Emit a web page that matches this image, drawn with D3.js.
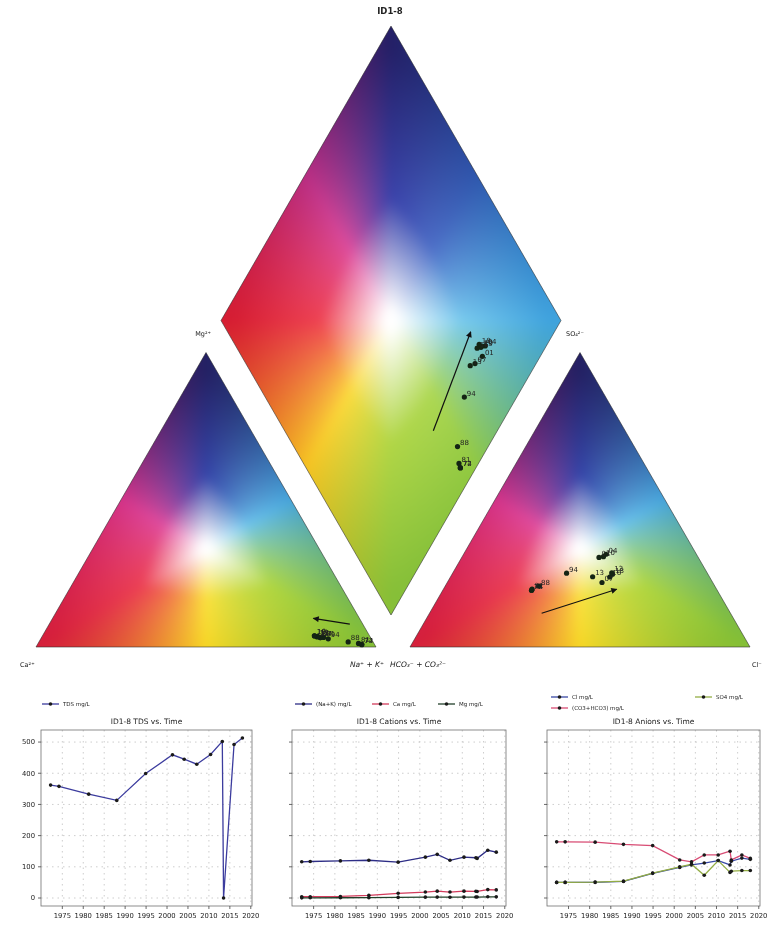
<!DOCTYPE html>
<html>
<head>
<meta charset="utf-8">
<title>ID1-8</title>
<script src="https://cdn.jsdelivr.net/npm/d3@7"></script>
<style>
  html, body { margin: 0; padding: 0; background: #fff; }
  #wrap { position: relative; width: 782px; height: 925px; overflow: hidden; }
  #field, #chart { position: absolute; left: 0; top: 0; }
  text { font-family: "DejaVu Sans", sans-serif; fill: #222; }
</style>
</head>
<body>
<div id="wrap">
  <canvas id="field" width="782" height="680"></canvas>
  <svg id="chart" width="782" height="925"></svg>
</div>
<script>
// ---- Sample record for well ID1-8 (decimal year, mg/L) ----
const sampleDates  = [1972.2, 1974.2, 1981.3, 1988.0, 1994.9, 2001.3, 2004.1, 2007.1, 2010.4, 2013.2, 2013.5, 2016.0, 2018.0];
const sampleLabels = ["72", "74", "81", "88", "94", "01", "04", "07", "10", "13", "13", "16", "18"];
const tdsMgL  = [362, 358, 333, 313, 399, 459, 445, 429, 460, 502, 0, 492, 513];
const naKMgL  = [116, 117, 119, 121, 115, 131, 140, 121, 131, 129, 127, 153, 147];
const caMgL   = [4, 4, 5, 8.5, 15, 19, 22, 19, 22, 21.5, 21, 27, 26];
const mgMgL   = [0.5, 0.6, 0.8, 1.2, 2, 2.7, 2.9, 2.5, 2.9, 3, 3, 3.8, 3.7];
const clMgL   = [50, 50, 50, 53, 79, 98, 106, 112, 120, 106, 118, 128, 124];
const so4MgL  = [50, 50, 51, 54, 80, 100, 108, 73, 120, 82, 86, 88, 88];
const hco3MgL = [180, 180, 179, 172, 168, 122, 116, 138, 138, 150, 122, 138, 127];

const yearTicks  = [1975, 1980, 1985, 1990, 1995, 2000, 2005, 2010, 2015, 2020];
const valueTicks = [0, 100, 200, 300, 400, 500];

// Trend arrows, as ternary fractions
const cationTrend  = [[0.884, 0.078], [0.767, 0.0975]];   // [Na+K, Mg]
const anionTrend   = [[0.33, 0.1145], [0.51, 0.196]];     // [Cl, SO4]
const diamondTrend = [[0.8115, 0.5625], [0.7535, 0.2845]]; // [Na+K, CO3+HCO3]

// Equivalent weights (mg per meq)
const eqWeight = { ca: 20.04, mg: 12.15, naK: 22.99, cl: 35.45, so4: 48.03, hco3: 61.02 };

// ---- Piper geometry ----
const L = 340, H = L * Math.sqrt(3) / 2;
const baseY = 647, catLeft = 36, anLeft = 410;
const diaBottom = { x: 391, y: 615 };
const frac = d3.scaleLinear([0, 1], [0, L]);
const lift = d3.scaleLinear([0, 1], [baseY, baseY - H]);
const catPoint = (na, mg) => [catLeft + frac(na + mg / 2), lift(mg)];
const anPoint  = (cl, so4) => [anLeft + frac(cl + so4 / 2), lift(so4)];
const diaPoint = (na, hco3) => {
  const a = 1 - na, b = 1 - hco3;
  return [diaBottom.x + frac((b - a) / 2), diaBottom.y - (baseY - lift(a + b))];
};

const catTri = [catPoint(0, 0), catPoint(1, 0), catPoint(0, 1)];
const anTri  = [anPoint(0, 0), anPoint(1, 0), anPoint(0, 1)];
const diamond = [diaPoint(1, 1), diaPoint(0, 1), diaPoint(0, 0), diaPoint(1, 0)];

// Percent composition per sample (meq basis)
const samples = sampleDates.map((d, i) => {
  const c = caMgL[i] / eqWeight.ca, m = mgMgL[i] / eqWeight.mg, n = naKMgL[i] / eqWeight.naK;
  const ct = c + m + n;
  const cl = clMgL[i] / eqWeight.cl, s = so4MgL[i] / eqWeight.so4, h = hco3MgL[i] / eqWeight.hco3;
  const at = cl + s + h;
  return { label: sampleLabels[i], na: n / ct, mg: m / ct, cl: cl / at, so4: s / at, hco3: h / at };
});

// ---- Colour field behind the Piper shapes ----
function makeLUT(stops, outer, mid, rWhite, rMid) {
  const oS = d3.scaleLinear(stops, outer).interpolate(d3.interpolateRgb);
  const mS = d3.scaleLinear(stops, mid).interpolate(d3.interpolateRgb);
  const NA = 360, NR = 200;
  const span = stops[stops.length - 1] - stops[0];
  const lut = new Uint8ClampedArray((NA + 1) * (NR + 1) * 3);
  for (let i = 0; i <= NA; i++) {
    const ang = stops[0] + i * span / NA;
    const o = d3.rgb(oS(ang)), m = d3.rgb(mS(ang));
    for (let j = 0; j <= NR; j++) {
      const r = j / NR;
      let R, G, B;
      if (r <= rWhite) { R = G = B = 255; }
      else if (r <= rMid) {
        const t = (r - rWhite) / (rMid - rWhite);
        R = 255 + (m.r - 255) * t; G = 255 + (m.g - 255) * t; B = 255 + (m.b - 255) * t;
      } else {
        const t = (r - rMid) / (1 - rMid);
        R = m.r + (o.r - m.r) * t; G = m.g + (o.g - m.g) * t; B = m.b + (o.b - m.b) * t;
      }
      const k = (i * (NR + 1) + j) * 3;
      lut[k] = R; lut[k + 1] = G; lut[k + 2] = B;
    }
  }
  return { lut, a0: stops[0], span, NA, NR };
}
function lutIndex(T, ang, r) {
  let a = ang;
  while (a < T.a0) a += 360;
  while (a >= T.a0 + 360) a -= 360;
  const i = Math.round((a - T.a0) / T.span * T.NA);
  const j = Math.round(Math.min(1, Math.max(0, r)) * T.NR);
  return (i * (T.NR + 1) + j) * 3;
}

// triangle: angle stops counter-clockwise from the lower-right corner
const triLUT = makeLUT(
  [-30, 30, 90, 150, 210, 270, 330],
  ["#84bf35", "#3a9ad6", "#232063", "#cf2a80", "#d51f3b", "#f5d31c", "#84bf35"],
  ["#b0d640", "#6ec4ec", "#3444a8", "#e04ea0", "#ec4054", "#fbe240", "#b0d640"],
  0.04, 0.42);
// diamond: angle stops counter-clockwise from the right corner
const diaLUT = makeLUT(
  [0, 45, 90, 135, 180, 225, 270, 315, 360],
  ["#3fa3de", "#2a52a8", "#231f66", "#b2297f", "#d61d32", "#f4bf1e", "#86bf38", "#8cc63e", "#3fa3de"],
  ["#78caee", "#4e70c8", "#3a42aa", "#de4e9e", "#ee4252", "#fcdc40", "#b0d646", "#aed854", "#78caee"],
  0.04, 0.45);

const canvas = document.getElementById("field");
const ctx = canvas.getContext("2d");
const PAD = 24;

// Build one shape's field on its own padded layer, then lay it down softened and clipped.
function layShape(poly, colourAt) {
  const xs = poly.map(p => p[0]), ys = poly.map(p => p[1]);
  const x0 = Math.floor(d3.min(xs)) - PAD, y0 = Math.floor(d3.min(ys)) - PAD;
  const w = Math.ceil(d3.max(xs)) + PAD - x0, h = Math.ceil(d3.max(ys)) + PAD - y0;
  const layer = document.createElement("canvas");
  layer.width = w; layer.height = h;
  const lctx = layer.getContext("2d");
  const im = lctx.createImageData(w, h);
  for (let j = 0; j < h; j++) {
    for (let i = 0; i < w; i++) {
      const [T, k] = colourAt(x0 + i + 0.5, y0 + j + 0.5);
      const p = (j * w + i) * 4;
      im.data[p] = T.lut[k]; im.data[p + 1] = T.lut[k + 1]; im.data[p + 2] = T.lut[k + 2]; im.data[p + 3] = 255;
    }
  }
  lctx.putImageData(im, 0, 0);
  ctx.save();
  ctx.beginPath();
  poly.forEach((p, i) => i ? ctx.lineTo(p[0], p[1]) : ctx.moveTo(p[0], p[1]));
  ctx.closePath();
  ctx.clip();
  ctx.filter = "blur(5px)";
  ctx.drawImage(layer, x0, y0);
  ctx.restore();
}

function triangleColour(tri) {
  const [bl, br, ap] = tri;
  const cx = (bl[0] + br[0] + ap[0]) / 3, cy = (bl[1] + br[1] + ap[1]) / 3;
  const inR = H / 3;
  return (x, y) => {
    const l3 = (bl[1] - y) / H;
    const xl = bl[0] + l3 * L / 2;
    const l2 = (x - xl) / L, l1 = 1 - l2 - l3;
    const rTri = 1 - 3 * Math.min(l1, l2, l3);
    const rCirc = Math.hypot(x - cx, y - cy) / (1.6 * inR);
    const r = 0.6 * rTri + 0.4 * rCirc;
    const ang = Math.atan2(cy - y, x - cx) * 180 / Math.PI;
    return [triLUT, lutIndex(triLUT, ang, r)];
  };
}
function diamondColour(dm) {
  const [bot, left, top, right] = dm;
  const cx = bot[0], cy = (top[1] + bot[1]) / 2;
  const hw = (right[0] - left[0]) / 2, hh = (bot[1] - top[1]) / 2;
  return (x, y) => {
    const u = (x - cx) / hw, v = (cy - y) / hh;
    const rD = Math.abs(u) + Math.abs(v);
    const rC = Math.hypot(u, v) / 0.85;
    const r = 0.6 * rD + 0.4 * rC;
    const ang = Math.atan2(v, u) * 180 / Math.PI;
    return [diaLUT, lutIndex(diaLUT, ang, r)];
  };
}
layShape(catTri, triangleColour(catTri));
layShape(anTri, triangleColour(anTri));
layShape(diamond, diamondColour(diamond));

// ---- Vector layer ----
const svg = d3.select("#chart");
const defs = svg.append("defs");
defs.append("marker").attr("id", "head")
  .attr("viewBox", "0 0 10 10").attr("refX", 9).attr("refY", 5)
  .attr("markerWidth", 7).attr("markerHeight", 6).attr("markerUnits", "userSpaceOnUse")
  .attr("orient", "auto")
  .append("path").attr("d", "M0,0 L10,5 L0,10 z").attr("fill", "#111");

const piper = svg.append("g");
[catTri, anTri, diamond].forEach(poly => {
  piper.append("polygon")
    .attr("points", poly.map(p => p.join(",")).join(" "))
    .attr("fill", "none").attr("stroke", "#2a2a2a").attr("stroke-width", 0.8).attr("stroke-opacity", 0.7);
});

piper.append("text").attr("x", 390).attr("y", 14).attr("text-anchor", "middle")
  .attr("font-size", 8.5).attr("font-weight", "bold").text("ID1-8");
piper.append("text").attr("x", catTri[2][0] + 5).attr("y", 336).attr("text-anchor", "end")
  .attr("font-size", 6.5).text("Mg²⁺");
piper.append("text").attr("x", anTri[2][0] - 14).attr("y", 336)
  .attr("font-size", 6.5).text("SO₄²⁻");
piper.append("text").attr("x", catTri[0][0] - 16).attr("y", 667)
  .attr("font-size", 6.5).text("Ca²⁺");
piper.append("text").attr("x", catTri[1][0] + 8).attr("y", 667).attr("text-anchor", "end")
  .attr("font-size", 7.5).attr("font-style", "italic").text("Na⁺ + K⁺");
piper.append("text").attr("x", anTri[0][0] - 20).attr("y", 667)
  .attr("font-size", 7.5).attr("font-style", "italic").text("HCO₃⁻ + CO₃²⁻");
piper.append("text").attr("x", anTri[1][0] + 2).attr("y", 667)
  .attr("font-size", 6.5).text("Cl⁻");

// trend arrows
function arrow(p0, p1) {
  piper.append("line")
    .attr("x1", p0[0]).attr("y1", p0[1]).attr("x2", p1[0]).attr("y2", p1[1])
    .attr("stroke", "#111").attr("stroke-width", 1.2).attr("marker-end", "url(#head)");
}
arrow(catPoint(...cationTrend[0]), catPoint(...cationTrend[1]));
arrow(anPoint(...anionTrend[0]), anPoint(...anionTrend[1]));
arrow(diaPoint(...diamondTrend[0]), diaPoint(...diamondTrend[1]));

// sample points with year labels
function plotSamples(pts) {
  const g = piper.append("g");
  g.selectAll("circle").data(pts).join("circle")
    .attr("cx", d => d.p[0]).attr("cy", d => d.p[1]).attr("r", 2.6)
    .attr("fill", "#142414");
  g.selectAll("text").data(pts).join("text")
    .attr("x", d => d.p[0] + 2.5).attr("y", d => d.p[1] - 1.5)
    .attr("font-size", 7).attr("fill", "#1a2a1a").text(d => d.label);
}
plotSamples(samples.map(s => ({ label: s.label, p: catPoint(s.na, s.mg) })));
plotSamples(samples.map(s => ({ label: s.label, p: anPoint(s.cl, s.so4) })));
plotSamples(samples.map(s => ({ label: s.label, p: diaPoint(s.na, s.hco3) })));

// ---- Time series panels ----
const panelTop = 730, panelBottom = 906;
const dateExtent = d3.extent(sampleDates);
const datePad = 0.05 * (dateExtent[1] - dateExtent[0]);
const tdsExtent = d3.extent(tdsMgL);
const valuePad = 0.05 * (tdsExtent[1] - tdsExtent[0]);
const yScale = d3.scaleLinear([tdsExtent[0] - valuePad, tdsExtent[1] + valuePad], [panelBottom, panelTop]);

const panels = [
  { left: 41, right: 252, title: "ID1-8 TDS vs. Time", yLabels: true,
    series: [
      { name: "TDS mg/L", values: tdsMgL, color: "#3c3c9e", key: [42, 704] }
    ] },
  { left: 292, right: 506, title: "ID1-8 Cations vs. Time", yLabels: false,
    series: [
      { name: "(Na+K) mg/L", values: naKMgL, color: "#2e2e86", key: [295, 704] },
      { name: "Ca mg/L", values: caMgL, color: "#d23c5c", key: [372, 704] },
      { name: "Mg mg/L", values: mgMgL, color: "#23402a", key: [438, 704] }
    ] },
  { left: 547, right: 760, title: "ID1-8 Anions vs. Time", yLabels: false,
    series: [
      { name: "Cl mg/L", values: clMgL, color: "#3a4aa4", key: [551, 697] },
      { name: "(CO3+HCO3) mg/L", values: hco3MgL, color: "#d84c74", key: [551, 708] },
      { name: "SO4 mg/L", values: so4MgL, color: "#93ad44", key: [695, 697] }
    ] }
];

panels.forEach(pn => {
  const x = d3.scaleLinear([dateExtent[0] - datePad, dateExtent[1] + datePad], [pn.left, pn.right]);
  const g = svg.append("g");

  // grid
  g.append("g").selectAll("line").data(yearTicks.filter(t => x(t) <= pn.right + 0.5)).join("line")
    .attr("x1", d => x(d)).attr("x2", d => x(d)).attr("y1", panelTop).attr("y2", panelBottom)
    .attr("stroke", "#b8b8b8").attr("stroke-width", 0.7).attr("stroke-dasharray", "1.5,4");
  g.append("g").selectAll("line").data(valueTicks).join("line")
    .attr("x1", pn.left).attr("x2", pn.right).attr("y1", d => yScale(d)).attr("y2", d => yScale(d))
    .attr("stroke", "#b8b8b8").attr("stroke-width", 0.7).attr("stroke-dasharray", "1.5,4");

  // frame
  g.append("rect").attr("x", pn.left).attr("y", panelTop)
    .attr("width", pn.right - pn.left).attr("height", panelBottom - panelTop)
    .attr("fill", "none").attr("stroke", "#707070").attr("stroke-width", 0.8);

  // ticks
  g.append("g").selectAll("line").data(valueTicks).join("line")
    .attr("x1", pn.left - 3).attr("x2", pn.left).attr("y1", d => yScale(d)).attr("y2", d => yScale(d))
    .attr("stroke", "#444").attr("stroke-width", 0.8);
  g.append("g").selectAll("line").data(yearTicks).join("line")
    .attr("x1", d => x(d)).attr("x2", d => x(d)).attr("y1", panelBottom).attr("y2", panelBottom + 3)
    .attr("stroke", "#444").attr("stroke-width", 0.8);

  g.append("g").selectAll("text").data(yearTicks).join("text")
    .attr("x", d => x(d)).attr("y", panelBottom + 12).attr("text-anchor", "middle")
    .attr("font-size", 6.8).text(d => d);
  if (pn.yLabels) {
    g.append("g").selectAll("text").data(valueTicks).join("text")
      .attr("x", pn.left - 6).attr("y", d => yScale(d)).attr("dy", "0.35em").attr("text-anchor", "end")
      .attr("font-size", 6.8).text(d => d);
  }

  // title
  g.append("text").attr("x", (pn.left + pn.right) / 2).attr("y", 724).attr("text-anchor", "middle")
    .attr("font-size", 7.5).text(pn.title);

  // series
  const line = d3.line().x((d, i) => x(sampleDates[i])).y(d => yScale(d));
  pn.series.forEach(s => {
    g.append("path").attr("d", line(s.values)).attr("fill", "none")
      .attr("stroke", s.color).attr("stroke-width", 1.3);
    g.append("g").selectAll("circle").data(s.values).join("circle")
      .attr("cx", (d, i) => x(sampleDates[i])).attr("cy", d => yScale(d)).attr("r", 1.8)
      .attr("fill", "#1a1a1a");
    // legend entry
    const [kx, ky] = s.key;
    g.append("line").attr("x1", kx).attr("x2", kx + 17).attr("y1", ky).attr("y2", ky)
      .attr("stroke", s.color).attr("stroke-width", 1.3);
    g.append("circle").attr("cx", kx + 8.5).attr("cy", ky).attr("r", 1.8).attr("fill", "#1a1a1a");
    g.append("text").attr("x", kx + 21).attr("y", ky).attr("dy", "0.35em")
      .attr("font-size", 5.5).text(s.name);
  });
});
</script>
</body>
</html>
